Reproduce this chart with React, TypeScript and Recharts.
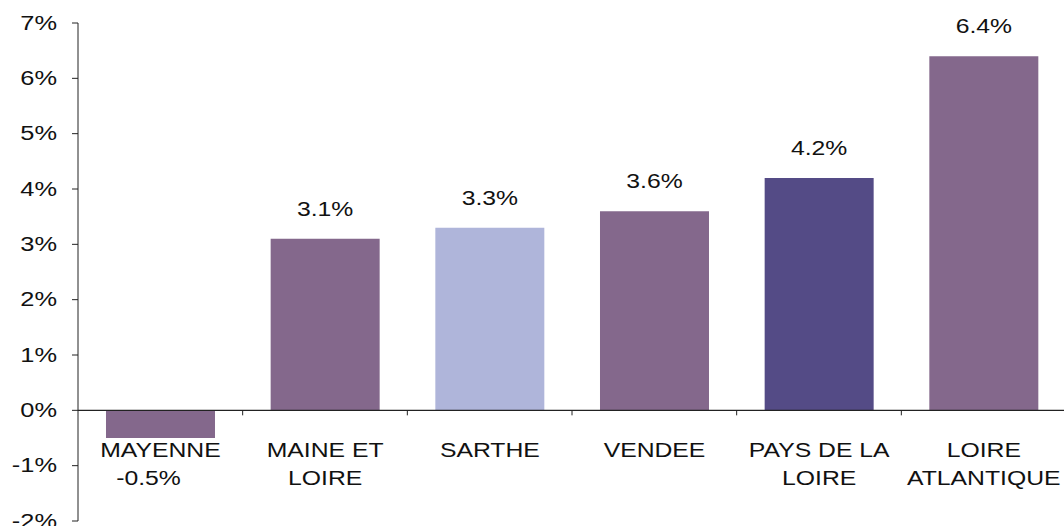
import React from 'react';
import { BarChart, Bar, XAxis, YAxis, Cell, LabelList, ReferenceLine } from 'recharts';

// category names (line breaks as in the original layout)
const regions = ['MAYENNE', 'MAINE ET\nLOIRE', 'SARTHE', 'VENDEE', 'PAYS DE LA\nLOIRE', 'LOIRE\nATLANTIQUE'];
const growth = [-0.5, 3.1, 3.3, 3.6, 4.2, 6.4];
const yTicks = [-2, -1, 0, 1, 2, 3, 4, 5, 6, 7];

const barColors = ['#84688C', '#84688C', '#AFB5DA', '#84688C', '#544B86', '#84688C'];
const FONT = '"Liberation Sans", Arial, sans-serif';

const data = regions.map((name, i) => ({ name, value: growth[i] }));

// the source picture is stretched horizontally, so text gets a scaleX too
const SText = ({ x, y, anchor = 'middle', size = 19.5, children }: any) => (
  <text
    transform={`translate(${x},${y}) scale(1.27,1)`}
    textAnchor={anchor}
    fontSize={size}
    fontFamily={FONT}
    fill="#111"
  >
    {children}
  </text>
);

const getBox = (p: any) => {
  const vb = p.viewBox ?? p;
  const x = Number(vb.x), y = Number(vb.y), w = Number(vb.width), h = Number(vb.height);
  return { cx: x + w / 2, top: Math.min(y, y + h), bottom: Math.max(y, y + h) };
};

const ValueLabel = (props: any) => {
  const v = growth[props.index];
  const { cx, top, bottom } = getBox(props);
  if (v < 0) return <SText x={cx - 12} y={bottom + 47}>{`${v.toFixed(1)}%`}</SText>;
  return <SText x={cx} y={top - 23}>{`${v.toFixed(1)}%`}</SText>;
};

const NameLabel = (props: any) => {
  const v = growth[props.index];
  const { cx, top, bottom } = getBox(props);
  const zero = v < 0 ? top : bottom;
  const lines = regions[props.index].split('\n');
  return (
    <g>
      {lines.map((l, i) => (
        <SText key={i} x={cx} y={zero + 47 + i * 28}>{l}</SText>
      ))}
    </g>
  );
};

const YTick = ({ x, y, payload }: any) => (
  <SText x={x} y={y + 6.5} anchor="end" size={20}>{`${payload.value}%`}</SText>
);

// category axis drawn at zero, with tick marks between categories
const ZeroAxis = (p: any) => {
  const { x1, y1, x2 } = p;
  const step = (x2 - x1) / regions.length;
  return (
    <g>
      <line x1={x1} y1={y1} x2={x2} y2={y1} stroke="#222" strokeWidth={1.2} />
      {regions.slice(1).map((_, i) => (
        <line key={i} x1={x1 + step * (i + 1)} y1={y1} x2={x1 + step * (i + 1)} y2={y1 + 5} stroke="#222" />
      ))}
    </g>
  );
};

export default function App() {
  return (
    <div style={{ position: 'fixed', left: 0, top: 0, width: 1064, height: 526, overflow: 'hidden', background: '#fff' }}>
      <BarChart width={1070} height={526} data={data} margin={{ top: 23, right: 4, bottom: 5, left: 0 }} barCategoryGap="17%">
        <XAxis dataKey="name" hide />
        <YAxis
          domain={[-2, 7]}
          ticks={yTicks}
          width={78}
          tickSize={6}
          tickMargin={15}
          axisLine={{ stroke: '#222' }}
          tickLine={{ stroke: '#222' }}
          tick={<YTick />}
          interval={0}
        />
        <ReferenceLine y={0} shape={ZeroAxis} />
        <Bar dataKey="value" isAnimationActive={false}>
          {data.map((d, i) => (
            <Cell key={d.name} fill={barColors[i]} />
          ))}
          <LabelList dataKey="value" content={<ValueLabel />} />
          <LabelList dataKey="name" content={<NameLabel />} />
        </Bar>
      </BarChart>
    </div>
  );
}
